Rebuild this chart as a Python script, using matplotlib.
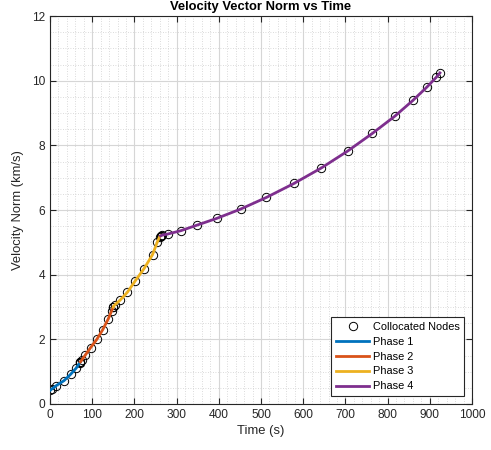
import matplotlib.pyplot as plt
from matplotlib.ticker import MultipleLocator

# node times (s) and velocity norms (km/s) per phase
t1 = [0, 4, 15, 33, 49, 62, 70, 72]
v1 = [0.42, 0.46, 0.57, 0.72, 0.92, 1.11, 1.26, 1.30]
t2 = [72, 76, 84, 96, 111, 125, 138, 146, 150]
v2 = [1.30, 1.37, 1.52, 1.74, 2.00, 2.30, 2.63, 2.88, 3.00]
t3 = [150, 153, 166, 183, 201, 223, 243, 254, 260, 262]
v3 = [3.00, 3.06, 3.21, 3.45, 3.79, 4.19, 4.62, 5.00, 5.18, 5.20]
t4 = [262, 265, 280, 310, 348, 395, 452, 513, 578, 643, 705, 764, 817, 860, 893, 915, 924]
v4 = [5.20, 5.22, 5.26, 5.36, 5.53, 5.74, 6.03, 6.39, 6.82, 7.30, 7.82, 8.37, 8.90, 9.39, 9.80, 10.10, 10.24]

phases = [(t1, v1), (t2, v2), (t3, v3), (t4, v4)]
colors = ['#0072BD', '#D95319', '#EDB120', '#7E2F8E']
names = ['Phase 1', 'Phase 2', 'Phase 3', 'Phase 4']

plt.rcParams['font.family'] = ['Liberation Sans', 'DejaVu Sans']
dark = '#262626'

fig = plt.figure(figsize=(4.91, 4.5), dpi=100)
ax = fig.add_axes([50 / 491, 46 / 450, 422 / 491, 388 / 450])

# nodes first so they sit in the legend top
tn = t1 + t2 + t3 + t4
vn = v1 + v2 + v3 + v4
ax.plot(tn, vn, 'o', mfc='none', mec='black', ms=6, mew=0.7, label='Collocated Nodes', zorder=2)
for (t, v), c, n in zip(phases, colors, names):
    ax.plot(t, v, color=c, lw=2, label=n, zorder=3)

ax.set_xlim(0, 1000)
ax.set_ylim(0, 12)
ax.xaxis.set_major_locator(MultipleLocator(100))
ax.xaxis.set_minor_locator(MultipleLocator(20))
ax.yaxis.set_major_locator(MultipleLocator(2))
ax.yaxis.set_minor_locator(MultipleLocator(0.5))
ax.grid(which='major', color='#d6d6d6', lw=0.8)
ax.grid(which='minor', color='#cfcfcf', lw=0.6, ls=(0, (1, 2)))
ax.set_axisbelow(True)
ax.tick_params(which='major', direction='in', top=True, right=True, length=4,
               labelsize=8.6, colors=dark, width=0.8)
ax.tick_params(which='minor', length=0)
for s in ax.spines.values():
    s.set_color(dark)
    s.set_linewidth(0.8)

ax.set_xlabel('Time (s)', fontsize=9.4, color=dark, labelpad=3)
ax.set_ylabel('Velocity Norm (km/s)', fontsize=9.4, color=dark, labelpad=6)
ax.set_title('Velocity Vector Norm vs Time', fontsize=9.4, fontweight='bold', pad=4)

leg = ax.legend(loc='lower right', fontsize=7.9, handlelength=3.0, handletextpad=0.3,
                fancybox=False, edgecolor=dark, framealpha=1, borderaxespad=0.7,
                labelspacing=0.45, borderpad=0.45)
leg.get_frame().set_linewidth(0.8)

fig.savefig('out.png', dpi=100)
